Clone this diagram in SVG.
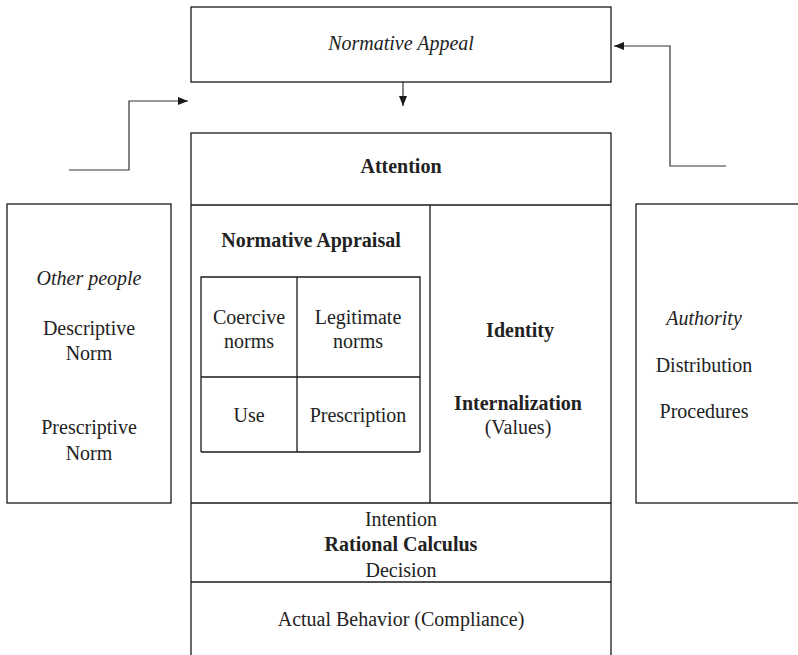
<svg xmlns="http://www.w3.org/2000/svg" width="798" height="655" viewBox="0 0 798 655">
<defs>
<style>
.box{fill:none;stroke:#1a1a1a;stroke-width:1.3}
.ln{stroke:#1a1a1a;stroke-width:1.3;fill:none}
.con{stroke:#333;stroke-width:1.2;fill:none}
text{font-family:"Liberation Serif","Times New Roman",serif;font-size:20px;fill:#222;text-anchor:middle}
.b{font-weight:bold}
.i{font-style:italic}
</style>
<marker id="arr" markerUnits="userSpaceOnUse" markerWidth="10" markerHeight="10" viewBox="0 0 10 10" refX="10" refY="5" orient="auto">
<path d="M0,1 L10,5 L0,9 Z" fill="#1a1a1a"/>
</marker>
</defs>
<rect width="798" height="655" fill="#fff"/>

<g id="connectors">
<path class="con" d="M403,82 V106" marker-end="url(#arr)"/>
<path class="con" d="M69,170 H129 V101 H188" marker-end="url(#arr)"/>
<path class="con" d="M726,166 H670 V46 H614" marker-end="url(#arr)"/>
</g>

<g id="normative-appeal">
<rect class="box" x="191" y="7" width="420" height="75"/>
<text class="i" x="401" y="50">Normative Appeal</text>
</g>

<g id="main">
<rect class="box" x="191" y="133" width="420" height="540"/>
<line class="ln" x1="191" y1="205" x2="611" y2="205"/>
<line class="ln" x1="430" y1="205" x2="430" y2="503"/>
<line class="ln" x1="191" y1="503" x2="611" y2="503"/>
<line class="ln" x1="191" y1="582" x2="611" y2="582"/>
</g>

<g id="attention">
<text class="b" x="401" y="173">Attention</text>
</g>

<g id="normative-appraisal">
<text class="b" x="311" y="247">Normative Appraisal</text>
<path class="ln" d="M201,452 V277 H420 V452 M297,277 V452 M201,377 H420 M201,452 H420"/>
<text x="249" y="324">Coercive</text>
<text x="249" y="348">norms</text>
<text x="358" y="324">Legitimate</text>
<text x="358" y="348">norms</text>
<text x="249" y="422">Use</text>
<text x="358" y="422">Prescription</text>
</g>

<g id="identity">
<text class="b" x="520" y="337">Identity</text>
<text class="b" x="518" y="410">Internalization</text>
<text x="518" y="434">(Values)</text>
</g>

<g id="other-people">
<rect class="box" x="7" y="204" width="164" height="299"/>
<text class="i" x="89" y="285">Other people</text>
<text x="89" y="335">Descriptive</text>
<text x="89" y="360">Norm</text>
<text x="89" y="434">Prescriptive</text>
<text x="89" y="460">Norm</text>
</g>

<g id="authority">
<rect class="box" x="636" y="204" width="175" height="299"/>
<text class="i" x="704" y="325">Authority</text>
<text x="704" y="372">Distribution</text>
<text x="704" y="418">Procedures</text>
</g>

<g id="rational-calculus">
<text x="401" y="526">Intention</text>
<text class="b" x="401" y="551">Rational Calculus</text>
<text x="401" y="577">Decision</text>
</g>

<g id="actual-behavior">
<text x="401" y="626">Actual Behavior (Compliance)</text>
</g>
</svg>
